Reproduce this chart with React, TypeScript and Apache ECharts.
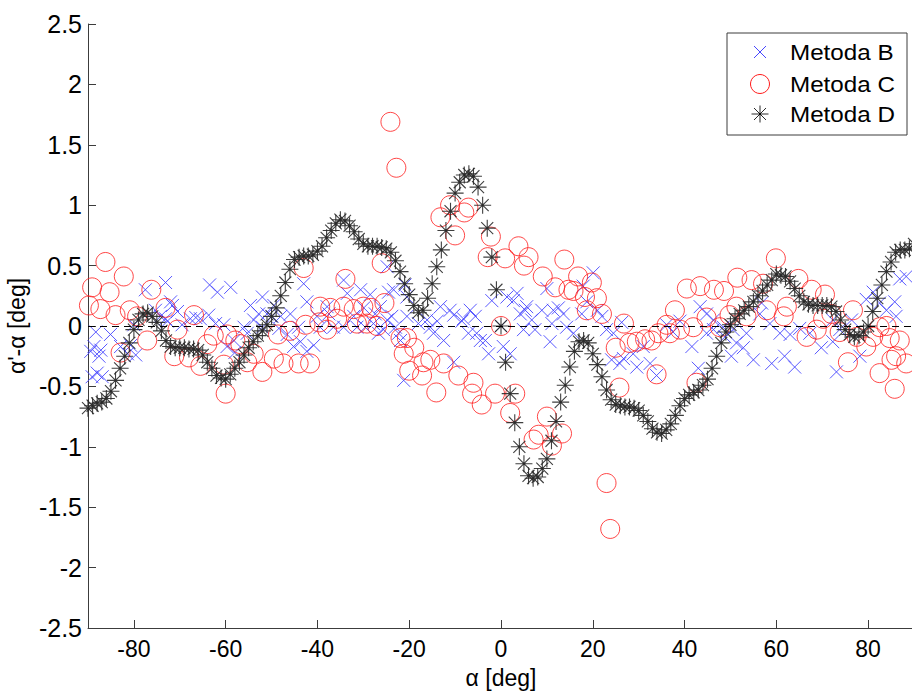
import React, { useEffect, useRef } from "react";
import * as echarts from "echarts";

const xTicks = [-80, -60, -40, -20, 0, 20, 40, 60, 80];
const seriesNames = ["Metoda B", "Metoda C", "Metoda D"];
const xAxisTitle = "α [deg]";
const yAxisTitle = "α'-α [deg]";

const metodaB: [number, number][] = [
  [-89.4, -0.21], [-89.1, -0.42], [-88.7, -0.17], [-88.3, -0.05], [-88, -0.39], [-87.6, -0.25], [-87.2, -0.2], [-86.9, -0.42],
  [-85.1, -0.07], [-82.9, -0.17], [-81.4, -0.23], [-80.7, -0.16], [-80, 0.01], [-79.6, -0.24], [-77.5, 0.3], [-75.3, 0.13],
  [-74.2, 0.08], [-73.1, 0.36], [-73.1, 0.06], [-72.7, 0.04], [-72, 0.2], [-71.6, 0.17], [-70.5, 0.12], [-69.5, 0.01],
  [-67.7, 0.06], [-66.5, 0.07], [-65.5, 0.06], [-63.5, 0.34], [-63.7, 0.09], [-62.2, 0.02], [-61.8, 0.28], [-60.4, 0.01],
  [-59.7, -0.17], [-58.9, 0.32], [-58.2, -0.12], [-58, -0.22], [-56, -0.01], [-55.3, -0.06], [-54.6, 0.17], [-53.9, 0.05],
  [-52.8, 0.1], [-52, 0.24], [-52, -0.01], [-51, 0.1], [-49.9, 0.08], [-49.5, 0.17], [-48.4, -0.02], [-48, 0.08],
  [-46.6, -0.07], [-45.9, 0.1], [-45.2, -0.17], [-44.1, -0.01], [-43.7, -0.13], [-43, 0.35], [-42.3, 0.2], [-42.3, -0.21],
  [-40.8, -0.16], [-40.1, 0.08], [-39.4, -0.01], [-37.9, 0.16], [-37.5, 0.1], [-36.5, -0.01], [-34.3, 0.38], [-34.3, -0.01],
  [-33.5, 0.27], [-32.1, 0.08], [-31.4, -0.01], [-30.6, 0.3], [-29.9, 0.15], [-29.6, -0.01], [-28.5, 0.26], [-27.8, 0.02],
  [-27.4, 0.1], [-26.7, -0.06], [-26.3, 0.16], [-25.6, -0.03], [-24.8, 0.49], [-24.5, 0.28], [-24.8, 0.05], [-23.8, 0.08],
  [-23.4, 0.3], [-23, -0.01], [-22.3, -0.06], [-21.9, -0.12], [-21.2, -0.45], [-20.9, 0.34], [-20.5, 0.24], [-20.5, 0.08],
  [-18, 0.02], [-16.1, 0.05], [-15.4, -0.01], [-14.7, -0.06], [-13.9, 0.04], [-13.2, 0.16], [-12.5, -0.12], [-11.1, 0.13],
  [-10.3, -0.3], [-10.3, 0.09], [-8.5, 0.04], [-8.2, 0.06], [-7.1, -0.06], [-6.7, 0.13], [-5.6, 0.08], [-5.3, -0.06],
  [-4.5, -0.12], [-3.4, -0.12], [-2.7, -0.23], [-2, 0.21], [0, 0], [0.5, -0.17], [1.3, 0.24], [2, -0.23], [2.7, 0.21],
  [3.5, 0.27], [4.2, 0.1], [4.9, -0.03], [5.3, 0.13], [5.6, 0.16], [6.7, 0.05], [7.4, -0.03], [8.9, 0.13], [10, 0.31],
  [10.7, -0.13], [11.1, 0.02], [11.4, 0.13], [12.5, 0.15], [13.6, 0.1], [14.3, -0.01], [15.8, -0.06], [17.6, 0.1],
  [17.9, 0.33], [18.7, 0.2], [20.1, 0.44], [21, 0.13], [22, 0.08], [23, -0.03], [24.1, -0.28], [24.5, -0.06],
  [25.9, -0.31], [26.3, 0.03], [26.7, -0.27], [28.8, -0.23], [29.6, -0.34], [31, -0.17], [32.5, -0.31], [33.9, -0.41],
  [36.1, 0.01], [37.5, -0.05], [39, 0.04], [41.6, -0.17], [43, -0.35], [43.4, 0.16], [44.8, 0.1], [44.8, -0.06],
  [46.3, 0.05], [46.3, -0.03], [48.4, -0.01], [48.8, -0.09], [50.2, -0.25], [50.6, -0.03], [51.3, -0.14], [52.8, -0.18],
  [53.5, -0.06], [55, -0.28], [56.4, 0.1], [56.8, 0.19], [58.6, 0.02], [59, -0.31], [60.8, -0.06], [61.8, -0.25],
  [63, -0.07], [64, -0.34], [65.1, -0.02], [67.3, -0.06], [69.8, -0.18], [72.3, -0.13], [72.3, 0.05], [73.1, -0.38],
  [73.8, -0.03], [76.4, 0.05], [78.2, -0.25], [79.6, 0.22], [81.1, 0.28], [82.5, 0.19], [84, 0.13], [85.8, 0.2],
  [86.1, 0.08], [86.9, 0.39], [88.3, 0.41]
];

const metodaC: [number, number][] = [
  [-89.8, 0.17], [-89.1, 0.32], [-87.3, 0.14], [-86.2, 0.53], [-85.3, 0.28], [-84, 0.09], [-82.9, -0.22], [-82.2, 0.41],
  [-80.9, 0.13], [-79.3, 0.08], [-77.1, -0.12], [-76.2, 0.3], [-73.1, 0.15], [-71.2, -0.25], [-70.5, -0.03], [-68, -0.26],
  [-66.9, 0.09], [-65.5, -0.33], [-64, -0.15], [-62.6, -0.08], [-60.4, -0.32], [-60, -0.56], [-59.7, -0.07], [-57.9, -0.12],
  [-56.8, -0.15], [-55.3, -0.3], [-53.9, -0.23], [-52, -0.38], [-49.5, -0.27], [-48.6, -0.07], [-47.4, -0.31], [-46, -0.04],
  [-44.1, -0.31], [-43, 0.48], [-42.6, 0.01], [-41.6, -0.31], [-39.6, 0.03], [-39.4, 0.16], [-37.9, -0.03], [-37.2, 0.15],
  [-35.7, 0.06], [-34.3, 0.16], [-33.9, 0.39], [-32.1, 0.14], [-31.4, 0.02], [-30, 0.16], [-29.2, 0.02], [-28.3, 0.15],
  [-27, 0], [-26, 0.52], [-25.4, 0.19], [-24.1, 1.69], [-22.8, 1.31], [-21.9, -0.1], [-21.2, -0.23], [-20.5, -0.1],
  [-20, -0.37], [-18.9, -0.18], [-17.2, -0.41], [-16.9, -0.3], [-15.4, -0.28], [-14.1, -0.55], [-13.2, 0.9], [-12.5, -0.31],
  [-11.1, 1.0], [-10, 0.75], [-9.3, -0.41], [-8, 0.94], [-7.1, 0.98], [-6.3, -0.56], [-6, -0.47], [-4.2, -0.65],
  [-2.2, 0.74], [-2.9, 0.57], [-1.3, -0.56], [0, 0], [0.9, 0.56], [2, -0.72], [3.1, -0.56], [3.8, 0.66], [5, 0.5],
  [6, 0.57], [7.1, -0.94], [8.2, -0.9], [9.1, 0.41], [10, -0.75], [11.1, -0.99], [11.8, 0.32], [13.8, 0.55],
  [13.3, -0.89], [14.7, 0.3], [15.8, 0.29], [16.8, 0.41], [18.3, 0.24], [18.7, 0.13], [19.8, 0.36], [20.9, 0.23],
  [22, 0.1], [23, -1.3], [23.8, -1.68], [25, -0.18], [25.8, -0.51], [26.8, 0.02], [28, -0.14], [29.6, -0.13],
  [31.4, -0.11], [32.8, -0.12], [33.9, -0.4], [34.3, -0.06], [36.1, 0.01], [36.8, -0.06], [37.9, 0.13], [39, -0.03],
  [40.5, 0.31], [41.9, -0.01], [42.6, -0.47], [43.4, 0.33], [44.8, 0.07], [46.4, 0.3], [47.7, -0.01], [48.6, 0.29],
  [49.8, 0.09], [51.5, 0.4], [51.3, 0.16], [53.5, 0.08], [54.6, 0.38], [57.1, 0.35], [57.9, 0.13], [59.9, 0.56],
  [61.6, 0.08], [62.3, 0.16], [64.8, 0.39], [66.6, -0.09], [67.7, 0.3], [68.8, -0.03], [70.2, 0.06], [70.6, 0.26],
  [72, 0.1], [73.8, -0.05], [75.6, -0.3], [76.7, 0.13], [77.5, -0.09], [79.6, -0.17], [81.1, -0.09], [82.5, -0.01],
  [82.5, -0.39], [84, 0], [84.7, -0.1], [85.1, -0.28], [85.8, -0.52], [86.1, -0.25], [86.9, -0.12], [88.3, -0.31]
];

const metodaD: [number, number][] = [
  [-90, -0.68], [-89, -0.66], [-88, -0.64], [-87, -0.63], [-86, -0.6], [-85, -0.54], [-84, -0.45], [-83, -0.35], [-82, -0.25], [-81, -0.14],
  [-80, -0.03], [-79, 0.05], [-78, 0.1], [-77, 0.11], [-76, 0.08], [-75, 0.03], [-74, -0.04], [-73, -0.12], [-72, -0.17], [-71, -0.18],
  [-70, -0.18], [-69, -0.18], [-68, -0.19], [-67, -0.19], [-66, -0.2], [-65, -0.24], [-64, -0.3], [-63, -0.35], [-62, -0.41], [-61, -0.43],
  [-60, -0.44], [-59, -0.4], [-58, -0.35], [-57, -0.3], [-56, -0.24], [-55, -0.18], [-54, -0.13], [-53, -0.08], [-52, -0.04], [-51, 0.01],
  [-50, 0.08], [-49, 0.15], [-48, 0.25], [-47, 0.36], [-46, 0.47], [-45, 0.55], [-44, 0.57], [-43, 0.58], [-42, 0.58], [-41, 0.59],
  [-40, 0.62], [-39, 0.66], [-38, 0.73], [-37, 0.79], [-36, 0.85], [-35, 0.88], [-34, 0.87], [-33, 0.83], [-32, 0.78], [-31, 0.72],
  [-30, 0.68], [-29, 0.66], [-28, 0.66], [-27, 0.66], [-26, 0.65], [-25, 0.64], [-24, 0.61], [-23, 0.54], [-22, 0.45], [-21, 0.35],
  [-20, 0.26], [-19, 0.17], [-18, 0.11], [-17, 0.13], [-16, 0.23], [-15, 0.35], [-14, 0.49], [-13, 0.63], [-12, 0.79], [-11, 0.95],
  [-10, 1.1], [-9, 1.19], [-8, 1.25], [-7, 1.26], [-6, 1.24], [-5, 1.15], [-4, 1.0], [-3, 0.81], [-2, 0.57], [-1, 0.3],
  [0, 0],
  [1, -0.3], [2, -0.56], [3, -0.8], [4, -1.0], [5, -1.14], [6, -1.24], [7, -1.26], [8, -1.25], [9, -1.18], [10, -1.1],
  [11, -0.95], [12, -0.79], [13, -0.63], [14, -0.49], [15, -0.34], [16, -0.21], [17, -0.13], [18, -0.12], [19, -0.14], [20, -0.23],
  [21, -0.32], [22, -0.42], [23, -0.53], [24, -0.61], [25, -0.65], [26, -0.66], [27, -0.67], [28, -0.67], [29, -0.68], [30, -0.7],
  [31, -0.74], [32, -0.79], [33, -0.85], [34, -0.88], [35, -0.89], [36, -0.86], [37, -0.81], [38, -0.74], [39, -0.66], [40, -0.6],
  [41, -0.57], [42, -0.55], [43, -0.53], [44, -0.49], [45, -0.44], [46, -0.35], [47, -0.25], [48, -0.14], [49, -0.05], [50, 0.01],
  [51, 0.06], [52, 0.1], [53, 0.13], [54, 0.16], [55, 0.2], [56, 0.25], [57, 0.29], [58, 0.34], [59, 0.38], [60, 0.43],
  [61, 0.42], [62, 0.41], [63, 0.37], [64, 0.31], [65, 0.25], [66, 0.2], [67, 0.18], [68, 0.17], [69, 0.17], [70, 0.17],
  [71, 0.17], [72, 0.16], [73, 0.12], [74, 0.05], [75, -0.03], [76, -0.07], [77, -0.09], [78, -0.08], [79, -0.05], [80, 0],
  [81, 0.12], [82, 0.23], [83, 0.34], [84, 0.45], [85, 0.53], [86, 0.61], [87, 0.63], [88, 0.63], [89, 0.64], [90, 0.68]
];

const FONT = "'Liberation Sans', Arial, sans-serif";
const BLUE = "#4646ff";
const RED = "#ff1a1a";
const STAR = "#2a2a2a";

const crossPath = "path://M0,0L10,10M10,0L0,10";
const starPath = "path://M7,0L7,14M0,7L14,7M2.05,2.05L11.95,11.95M2.05,11.95L11.95,2.05M6.2,6.2L7.8,6.2L7.8,7.8L6.2,7.8Z";

export default function App() {
  const ref = useRef<HTMLDivElement>(null);
  useEffect(() => {
    if (!ref.current) return;
    const chart = echarts.init(ref.current, undefined, { renderer: "svg" });
    const legendRows = [19, 51, 81];
    chart.setOption({
      animation: false,
      backgroundColor: "#ffffff",
      grid: { left: 88, top: 24, width: 826, height: 604, outerBoundsMode: "none", containLabel: false },
      xAxis: {
        type: "value",
        min: -90,
        max: 90,
        name: xAxisTitle,
        nameLocation: "middle",
        nameGap: 38,
        nameTextStyle: { fontFamily: FONT, fontSize: 23, color: "#000" },
        axisLine: { show: true, onZero: false, lineStyle: { color: "#3c3c3c", width: 1 } },
        axisTick: { show: true, inside: true, length: 8, customValues: xTicks, lineStyle: { color: "#3c3c3c" } },
        axisLabel: { customValues: xTicks, color: "#000", fontFamily: FONT, fontSize: 23, margin: 9 },
        splitLine: { show: false },
      },
      yAxis: {
        type: "value",
        min: -2.5,
        max: 2.5,
        interval: 0.5,
        name: yAxisTitle,
        nameLocation: "middle",
        nameGap: 54,
        nameRotate: 90,
        nameTextStyle: { fontFamily: FONT, fontSize: 23, color: "#000" },
        axisLine: { show: true, onZero: false, lineStyle: { color: "#3c3c3c", width: 1 } },
        axisTick: { show: true, inside: true, length: 8, lineStyle: { color: "#3c3c3c" } },
        axisLabel: { color: "#000", fontFamily: FONT, fontSize: 25, margin: 6 },
        splitLine: { show: false },
      },
      series: [
        {
          name: seriesNames[0],
          type: "scatter",
          data: metodaB,
          symbol: crossPath,
          symbolSize: 13,
          clip: false,
          itemStyle: { color: BLUE, borderColor: BLUE, borderWidth: 1, opacity: 0.9 },
          emphasis: { disabled: true },
          markLine: {
            silent: true,
            symbol: ["none", "none"],
            label: { show: false },
            lineStyle: { color: "#000", type: [7, 5], width: 1 },
            data: [{ yAxis: 0 }],
          },
          z: 2,
        },
        {
          name: seriesNames[1],
          type: "scatter",
          data: metodaC,
          symbol: "circle",
          symbolSize: 19,
          clip: false,
          itemStyle: { color: "rgba(0,0,0,0)", borderColor: RED, borderWidth: 1 },
          emphasis: { disabled: true },
          z: 3,
        },
        {
          name: seriesNames[2],
          type: "scatter",
          data: metodaD,
          symbol: starPath,
          symbolSize: 17,
          clip: false,
          itemStyle: { color: "#000", borderColor: STAR, borderWidth: 1.1, opacity: 0.9 },
          emphasis: { disabled: true },
          z: 4,
        },
      ],
      graphic: [
        {
          type: "group",
          x: 727,
          y: 33,
          z: 100,
          children: [
            { type: "rect", shape: { x: 0, y: 0, width: 180, height: 102 }, style: { fill: "#fff", stroke: "#3c3c3c", lineWidth: 1 } },
            { type: "line", shape: { x1: 27, y1: legendRows[0] - 6, x2: 39, y2: legendRows[0] + 6 }, style: { stroke: BLUE, lineWidth: 1 } },
            { type: "line", shape: { x1: 39, y1: legendRows[0] - 6, x2: 27, y2: legendRows[0] + 6 }, style: { stroke: BLUE, lineWidth: 1 } },
            { type: "circle", shape: { cx: 33, cy: legendRows[1], r: 9.5 }, style: { fill: "none", stroke: RED, lineWidth: 1 } },
            { type: "line", shape: { x1: 33, y1: legendRows[2] - 8.5, x2: 33, y2: legendRows[2] + 8.5 }, style: { stroke: STAR, lineWidth: 1 } },
            { type: "line", shape: { x1: 24.5, y1: legendRows[2], x2: 41.5, y2: legendRows[2] }, style: { stroke: STAR, lineWidth: 1 } },
            { type: "line", shape: { x1: 27, y1: legendRows[2] - 6, x2: 39, y2: legendRows[2] + 6 }, style: { stroke: STAR, lineWidth: 1 } },
            { type: "line", shape: { x1: 27, y1: legendRows[2] + 6, x2: 39, y2: legendRows[2] - 6 }, style: { stroke: STAR, lineWidth: 1 } },
            { type: "rect", shape: { x: 32, y: legendRows[2] - 1, width: 2, height: 2 }, style: { fill: "#000" } },
            ...seriesNames.map((n, i) => ({
              type: "text",
              x: 63,
              y: legendRows[i],
              scaleX: 1.1,
              style: { text: n, fill: "#000", font: `22px ${FONT}`, verticalAlign: "middle", align: "left" },
            })),
          ],
        },
      ],
    });
    return () => chart.dispose();
  }, []);
  return <div ref={ref} style={{ position: "fixed", left: 0, top: 0, width: 912, height: 691, background: "#fff" }} />;
}
